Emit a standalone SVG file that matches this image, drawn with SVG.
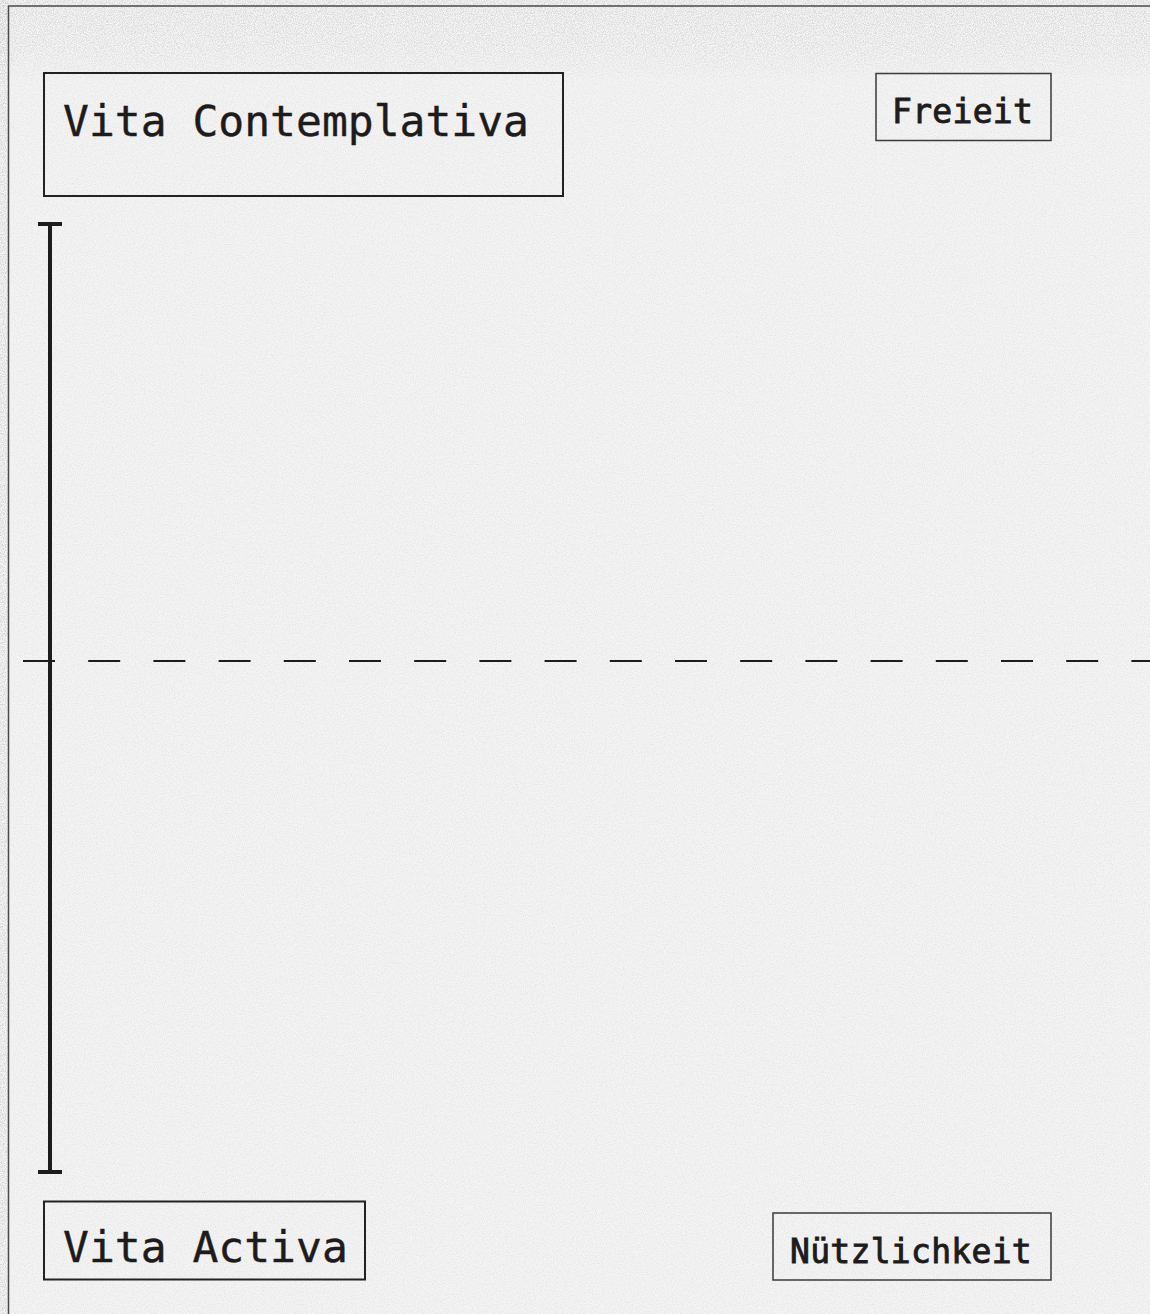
<svg xmlns="http://www.w3.org/2000/svg" width="1150" height="1314" viewBox="0 0 1150 1314">
  <defs>
    <filter id="noise" x="0" y="0" width="100%" height="100%">
      <feTurbulence type="fractalNoise" baseFrequency="0.9" numOctaves="2" seed="3" result="t"/>
      <feColorMatrix type="matrix" values="0 0 0 0 0.55  0 0 0 0 0.55  0 0 0 0 0.55  0 0 0 -2.2 1.35"/>
    </filter>
    <linearGradient id="topfade" x1="0" y1="0" x2="0" y2="1">
      <stop offset="0" stop-color="#fff" stop-opacity="1"/>
      <stop offset="0.6" stop-color="#fff" stop-opacity="0.7"/>
      <stop offset="1" stop-color="#fff" stop-opacity="0"/>
    </linearGradient>
    <mask id="topmask">
      <rect x="0" y="0" width="1150" height="80" fill="url(#topfade)"/>
    </mask>
    <style>
      .box { fill: none; stroke: #222; stroke-width: 2; }
      .thin { fill: none; stroke: #3a3a3a; stroke-width: 1.5; }
      .big { font-family: "DejaVu Sans Mono", "Liberation Mono", monospace; font-size: 43px; fill: #1e1b1c; stroke: #1e1b1c; stroke-width: 0.4; }
      .small { font-family: "DejaVu Sans Mono", "Liberation Mono", monospace; font-size: 33px; fill: #1e1b1c; stroke: #1e1b1c; stroke-width: 0.9; letter-spacing: 0.3px; }
    </style>
  </defs>

  <!-- background -->
  <rect x="0" y="0" width="1150" height="1314" fill="#f4f4f4"/>
  <rect x="0" y="0" width="1150" height="1314" filter="url(#noise)" opacity="0.3"/>
  <g mask="url(#topmask)">
    <rect x="0" y="0" width="1150" height="80" filter="url(#noise)" opacity="0.6"/>
  </g>
  <rect x="0" y="0" width="8" height="1314" filter="url(#noise)" opacity="0.6"/>

  <!-- outer frame -->
  <path d="M8.5 1314 V6 H1150" fill="none" stroke="#4a4a4a" stroke-width="1.5"/>

  <g id="connectors">
    <line x1="23" y1="661" x2="1150" y2="661" stroke="#1e1b1c" stroke-width="2" stroke-dasharray="32 33.2"/>
    <line x1="50" y1="222" x2="50" y2="1173" stroke="#1e1b1c" stroke-width="4"/>
    <line x1="38" y1="224" x2="62" y2="224" stroke="#1e1b1c" stroke-width="4"/>
    <line x1="38" y1="1172" x2="62" y2="1172" stroke="#1e1b1c" stroke-width="4"/>
  </g>

  <g id="vita-contemplativa">
    <rect class="box" x="44" y="73" width="519" height="123"/>
    <text class="big" x="63" y="136">Vita Contemplativa</text>
  </g>

  <g id="freieit">
    <rect class="thin" x="876" y="73.5" width="175" height="67"/>
    <text class="small" x="892" y="123">Freieit</text>
  </g>

  <g id="vita-activa">
    <rect class="box" x="44" y="1201.5" width="321" height="78"/>
    <text class="big" x="63" y="1262">Vita Activa</text>
  </g>

  <g id="nuetzlichkeit">
    <rect class="thin" x="773" y="1213" width="278" height="67"/>
    <text class="small" x="790" y="1263">Nützlichkeit</text>
  </g>
</svg>
